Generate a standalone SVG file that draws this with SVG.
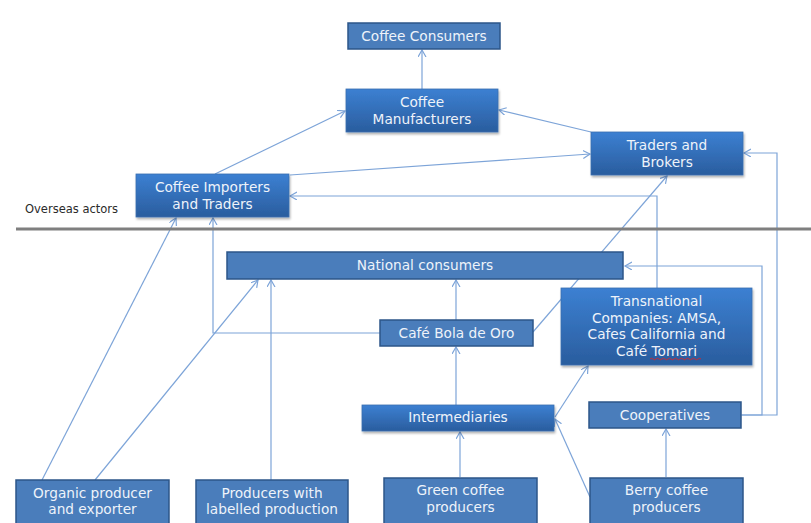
<svg xmlns="http://www.w3.org/2000/svg" width="811" height="523" viewBox="0 0 811 523">
  <defs>
    <linearGradient id="g" x1="0" y1="0" x2="0" y2="1">
      <stop offset="0" stop-color="#3c80d2"/>
      <stop offset="1" stop-color="#2a5d9e"/>
    </linearGradient>
    <filter id="sh" x="-10%" y="-10%" width="120%" height="130%">
      <feDropShadow dx="1" dy="2" stdDeviation="1.2" flood-color="#000" flood-opacity="0.3"/>
    </filter>
    <marker id="ah" markerUnits="userSpaceOnUse" markerWidth="10" markerHeight="10" refX="7" refY="4" orient="auto">
      <path d="M0,0 L7,4 L0,8" fill="none" stroke="#7da4d8" stroke-width="1.2"/>
    </marker>
  </defs>
  <style>
    .flat { fill: #4a7dbb; stroke: #2c5689; stroke-width: 1.5; }
    .grad { fill: url(#g); stroke: #3a6fb0; stroke-width: 0.8; filter: url(#sh); }
    .t { font-family: "DejaVu Sans", Verdana, sans-serif; font-size: 13.7px; fill: #eef3fa; text-anchor: middle; }
    .c { fill: none; stroke: #7da4d8; stroke-width: 1.2; marker-end: url(#ah); }
    .lbl { font-family: "DejaVu Sans", Verdana, sans-serif; font-size: 11.5px; fill: #2a2a2a; }
  </style>
  <rect width="811" height="523" fill="#fff"/>

  <g id="connectors">
    <line class="c" x1="422" y1="89" x2="422" y2="50"/>
    <line class="c" x1="215" y1="174" x2="345" y2="111"/>
    <line class="c" x1="591" y1="132" x2="499" y2="110"/>
    <line class="c" x1="290" y1="175" x2="590" y2="154"/>
    <polyline class="c" points="657,288 657,196 290,196"/>
    <polyline class="c" points="742,415 777,415 777,153 744,153"/>
    <polyline class="c" points="741,415 762,415 762,266 625,266"/>
    <polyline class="c" points="380,333 213,333 213,218"/>
    <line class="c" x1="533" y1="332" x2="667" y2="176"/>
    <line class="c" x1="456" y1="320" x2="456" y2="280"/>
    <line class="c" x1="456" y1="405" x2="456" y2="347"/>
    <line class="c" x1="555" y1="417" x2="588" y2="366"/>
    <line class="c" x1="460" y1="477" x2="460" y2="432"/>
    <line class="c" x1="590" y1="497" x2="555" y2="419"/>
    <line class="c" x1="666" y1="477" x2="666" y2="429"/>
    <line class="c" x1="42" y1="480" x2="176" y2="218"/>
    <line class="c" x1="95" y1="480" x2="258" y2="280"/>
    <line class="c" x1="271" y1="480" x2="271" y2="280"/>
  </g>

  <line x1="16" y1="229" x2="811" y2="229" stroke="#7f7f7f" stroke-width="3"/>
  <text class="lbl" x="25" y="213">Overseas actors</text>

  <g id="coffee-consumers">
    <rect class="flat" x="348" y="23" width="152" height="26"/>
    <text class="t" x="424" y="41">Coffee Consumers</text>
  </g>
  <g id="coffee-manufacturers">
    <rect class="grad" x="346" y="89" width="152" height="43"/>
    <text class="t" x="422" y="107">Coffee</text>
    <text class="t" x="422" y="124">Manufacturers</text>
  </g>
  <g id="traders-brokers">
    <rect class="grad" x="591" y="132" width="152" height="43"/>
    <text class="t" x="667" y="150">Traders and</text>
    <text class="t" x="667" y="166.5">Brokers</text>
  </g>
  <g id="importers">
    <rect class="grad" x="136" y="174" width="153" height="43"/>
    <text class="t" x="212.5" y="192">Coffee Importers</text>
    <text class="t" x="212.5" y="208.5">and Traders</text>
  </g>
  <g id="national-consumers">
    <rect class="flat" x="227" y="252" width="396" height="27"/>
    <text class="t" x="425" y="270">National consumers</text>
  </g>
  <g id="transnational">
    <rect class="grad" x="561" y="288" width="191" height="77"/>
    <text class="t" x="656.5" y="306">Transnational</text>
    <text class="t" x="656.5" y="322.5">Companies: AMSA,</text>
    <text class="t" x="656.5" y="339">Cafes California and</text>
    <text class="t" x="656.5" y="355.5">Café Tomari</text>
    <path d="M650,359 q1.5,-1.5 3,0 t3,0 t3,0 t3,0 t3,0 t3,0 t3,0 t3,0 t3,0 t3,0 t3,0 t3,0 t3,0 t3,0 t3,0 t3,0 t3,0" fill="none" stroke="#d8262a" stroke-width="0.9"/>
  </g>
  <g id="cafe-bola">
    <rect class="flat" x="380" y="320" width="153" height="26"/>
    <text class="t" x="456.5" y="337.5">Café Bola de Oro</text>
  </g>
  <g id="intermediaries">
    <rect class="grad" x="362" y="405" width="192" height="26"/>
    <text class="t" x="458" y="422">Intermediaries</text>
  </g>
  <g id="cooperatives">
    <rect class="flat" x="589" y="402" width="152" height="26"/>
    <text class="t" x="665" y="419.5">Cooperatives</text>
  </g>
  <g id="organic">
    <rect class="flat" x="16" y="480" width="153" height="45"/>
    <text class="t" x="92.5" y="497.5">Organic producer</text>
    <text class="t" x="92.5" y="514">and exporter</text>
  </g>
  <g id="labelled">
    <rect class="flat" x="196" y="480" width="152" height="45"/>
    <text class="t" x="272" y="497.5">Producers with</text>
    <text class="t" x="272" y="514">labelled production</text>
  </g>
  <g id="green">
    <rect class="flat" x="384" y="478" width="153" height="47"/>
    <text class="t" x="460.5" y="495">Green coffee</text>
    <text class="t" x="460.5" y="511.5">producers</text>
  </g>
  <g id="berry">
    <rect class="flat" x="590" y="478" width="153" height="47"/>
    <text class="t" x="666.5" y="495">Berry coffee</text>
    <text class="t" x="666.5" y="511.5">producers</text>
  </g>
</svg>
